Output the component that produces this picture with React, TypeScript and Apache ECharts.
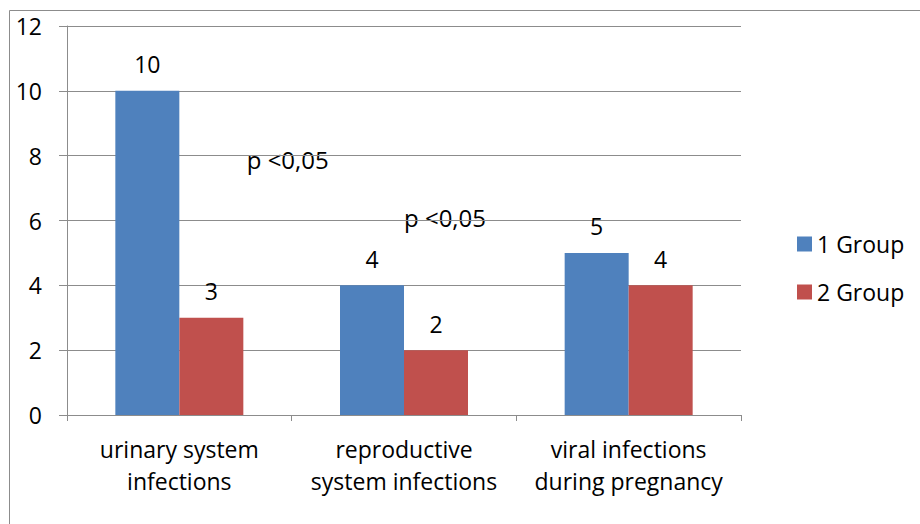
import React, { useEffect, useRef } from "react";
import * as echarts from "echarts";

const categories = ["urinary system\ninfections", "reproductive\nsystem infections", "viral infections\nduring pregnancy"];
const group1 = [10, 4, 5];
const group2 = [3, 2, 4];
const seriesNames = ["1 Group", "2 Group"];
const yTicks = { min: 0, max: 12, interval: 2 };
const annotations = [
  { text: "p <0,05", value: 7.87, cat: 0.3 },
  { text: "p <0,05", value: 6.08, cat: 1.0 },
];

const FONT = "'Open Sans', sans-serif";

export default function App() {
  const ref = useRef<HTMLDivElement>(null);
  useEffect(() => {
    const chart = echarts.init(ref.current!, null, { renderer: "svg" });
    const gridLeft = 67, gridTop = 26, gridW = 674, gridH = 389;
    const catW = gridW / categories.length;
    chart.setOption({
      animation: false,
      textStyle: { fontFamily: FONT },
      grid: { left: gridLeft, top: gridTop, width: gridW, height: gridH, containLabel: false },
      legend: {
        orient: "vertical",
        left: 792,
        top: 223,
        itemWidth: 15,
        itemHeight: 15,
        itemGap: 16,
        icon: "rect",
        textStyle: { fontSize: 23, color: "#000", fontFamily: FONT, lineHeight: 32 },
        data: seriesNames,
      },
      xAxis: {
        type: "category",
        data: categories,
        axisLine: { lineStyle: { color: "#8c8c8c", width: 1 } },
        axisTick: { show: true, inside: false, length: 6, alignWithLabel: false, lineStyle: { color: "#8c8c8c" } },
        axisLabel: { fontSize: 23, color: "#000", margin: 18, lineHeight: 32, interval: 0, fontFamily: FONT },
      },
      yAxis: {
        type: "value",
        min: yTicks.min,
        max: yTicks.max,
        interval: yTicks.interval,
        axisLine: { show: true, lineStyle: { color: "#8c8c8c" } },
        axisTick: { show: true, length: 8, lineStyle: { color: "#8c8c8c" } },
        splitLine: { lineStyle: { color: "#8c8c8c" } },
        axisLabel: { fontSize: 23, color: "#000", margin: 25, fontFamily: FONT },
      },
      series: [
        {
          name: seriesNames[0],
          type: "bar",
          data: group1,
          barWidth: 64,
          barGap: "0%",
          itemStyle: { color: "#4F81BD" },
          label: { show: true, position: "top", distance: 15, fontSize: 23, color: "#000", fontFamily: FONT },
        },
        {
          name: seriesNames[1],
          type: "bar",
          data: group2,
          barWidth: 64,
          barGap: "0%",
          itemStyle: { color: "#C0504D" },
          label: { show: true, position: "top", distance: 15, fontSize: 23, color: "#000", fontFamily: FONT },
        },
      ],
      graphic: [
        {
          type: "rect",
          silent: true,
          shape: { x: 9.5, y: 10.5, width: 2000, height: 2000 },
          style: { fill: "none", stroke: "#8c8c8c", lineWidth: 1 },
        },
        ...annotations.map((a) => ({
          type: "text",
          silent: true,
          x: gridLeft + (a.cat + 0.5) * catW,
          y: gridTop + gridH * (1 - a.value / yTicks.max),
          style: { text: a.text, fontSize: 24, fill: "#000", fontFamily: FONT, align: "left", verticalAlign: "middle" },
        })),
      ],
    });
    return () => chart.dispose();
  }, []);
  return <div ref={ref} style={{ position: "absolute", left: 0, top: 0, width: 920, height: 524 }} />;
}
